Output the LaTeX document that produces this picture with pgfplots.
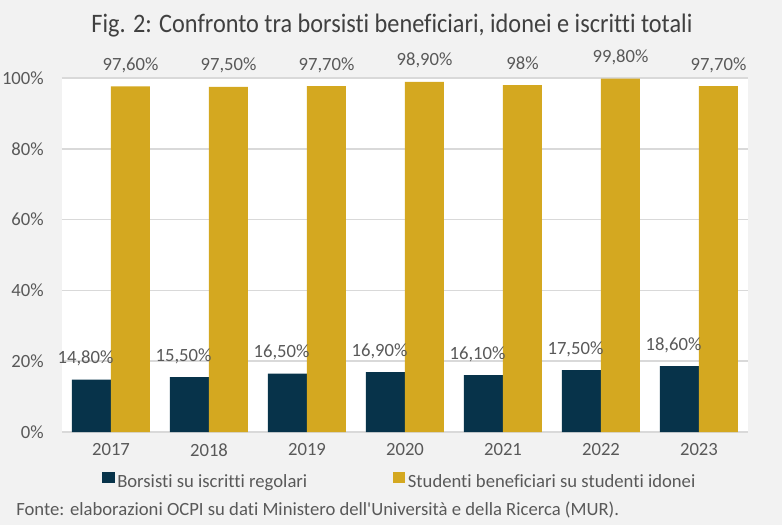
\documentclass[border=0pt]{standalone}
\usepackage{pgfplots}
\pgfplotsset{compat=1.18}
\usepackage{fontspec}
\setmainfont{Carlito}[Ligatures=NoCommon]
\newfontfamily\cf{Carlito}[Ligatures=NoCommon]
\definecolor{navy}{HTML}{07334A}
\definecolor{gold}{HTML}{D4A820}
\definecolor{bg}{HTML}{F2F2F2}
\definecolor{gridc}{HTML}{D9D9D9}
\definecolor{txt}{HTML}{595959}
\definecolor{ttl}{HTML}{404040}
\begin{document}
\begin{tikzpicture}
\fill[bg] (0pt,0pt) rectangle (586.5pt,393.75pt);
\begin{axis}[
  at={(46.5pt,69.75pt)}, anchor=south west, scale only axis,
  width=514.5pt, height=265.5pt,
  ybar=0pt, bar width=29.25pt,
  xmin=-0.5, xmax=6.5, ymin=0, ymax=100,
  xtick={0,1,2,3,4,5,6},
  xticklabels={2017,2018,2019,2020,2021,2022,2023},
  ytick={0,20,40,60,80,100},
  yticklabel={\pgfmathprintnumber{\tick}\%},
  /pgf/number format/assume math mode=true,
  axis background/.style={fill=white},
  axis line style={draw=none},
  ymajorgrids, grid style={draw=gridc, line width=1.1pt},
  major tick length=0pt,
  tick label style={font=\cf\fontsize{14}{16}\selectfont, text=txt},
  yticklabel style={anchor=east, inner sep=0pt, xshift=-13.5pt},
  xticklabel style={anchor=north, inner sep=0pt, yshift=-8.5pt},
  clip=false,
  point meta=explicit symbolic,
  nodes near coords,
  every node near coord/.append style={font=\cf\fontsize{14}{16}\selectfont, text=txt, anchor=base, inner sep=0pt, yshift=12pt},
  legend style={draw=none, fill=none, legend columns=2, at={(0.0579,-0.141)}, anchor=west, inner sep=0pt,
    font=\cf\fontsize{14}{16}\selectfont, text=txt,
    /tikz/every even column/.append style={column sep=62pt}},
  legend image code/.code={\fill[#1] (0pt,-1pt) rectangle (9.45pt,7.25pt);},
]
\addplot[fill=navy, draw=none, every node near coord/.append style={xshift=-4.5pt}] coordinates {
  (0,14.8) [14,80\%]
  (1,15.5) [15,50\%]
  (2,16.5) [16,50\%]
  (3,16.9) [16,90\%]
  (4,16.1) [16,10\%]
  (5,17.5) [17,50\%]
  (6,18.6) [18,60\%]
};
\addplot[fill=gold, draw=none] coordinates {
  (0,97.6) [97,60\%]
  (1,97.5) [97,50\%]
  (2,97.7) [97,70\%]
  (3,98.9) [98,90\%]
  (4,98.0) [98\%]
  (5,99.8) [99,80\%]
  (6,97.7) [97,70\%]
};
\legend{Borsisti su iscritti regolari, Studenti beneficiari su studenti idonei}
\end{axis}
\node[anchor=base, inner sep=0pt, text=ttl] at (294pt,369.5pt)
  {\resizebox{450.75pt}{\height}{\cf\fontsize{20}{24}\selectfont Fig. 2: Confronto tra borsisti beneficiari, idonei e iscritti totali}};
\node[anchor=base west, inner sep=0pt, text=txt] at (12pt,7pt)
  {\cf\fontsize{14}{16}\selectfont Fonte: elaborazioni OCPI su dati Ministero dell'Università e della Ricerca (MUR).};
\end{tikzpicture}
\end{document}
